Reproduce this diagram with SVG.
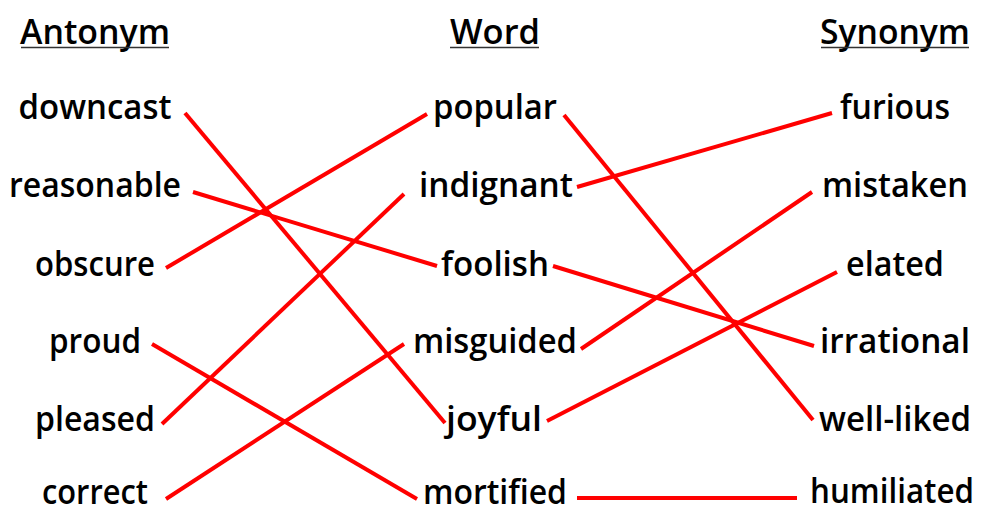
<svg xmlns="http://www.w3.org/2000/svg" width="984" height="513" viewBox="0 0 984 513">
<style>
text{font-family:"Open Sans","Noto Sans","DejaVu Sans",sans-serif;font-size:34px;font-weight:600;fill:#000;text-anchor:middle}
.hl{stroke:#333;stroke-width:1.6}
.c line{stroke:#ff0000;stroke-width:4;stroke-linecap:butt}
</style>
<rect width="984" height="513" fill="#fff"/>
<g id="headers">
<g id="h-antonym"><text x="95" y="44" textLength="150" lengthAdjust="spacingAndGlyphs">Antonym</text><line class="hl" x1="21" y1="47.5" x2="169" y2="47.5"/></g>
<g id="h-word"><text x="495" y="44" textLength="90" lengthAdjust="spacingAndGlyphs">Word</text><line class="hl" x1="450" y1="47.5" x2="539" y2="47.5"/></g>
<g id="h-synonym"><text x="895" y="44" textLength="150" lengthAdjust="spacingAndGlyphs">Synonym</text><line class="hl" x1="821" y1="47.5" x2="969" y2="47.5"/></g>
</g>
<g id="connectors" class="c">
<line x1="185" y1="113" x2="445" y2="423"/>
<line x1="193" y1="192" x2="437" y2="266"/>
<line x1="166" y1="268" x2="427" y2="114"/>
<line x1="152" y1="344" x2="417" y2="499"/>
<line x1="162" y1="424" x2="404" y2="194"/>
<line x1="166" y1="499" x2="404" y2="344"/>
<line x1="564" y1="115" x2="813" y2="420"/>
<line x1="577" y1="187" x2="832" y2="113"/>
<line x1="553" y1="266" x2="814" y2="346"/>
<line x1="581" y1="349" x2="812" y2="192"/>
<line x1="547" y1="421" x2="837" y2="272"/>
<line x1="577" y1="498" x2="797" y2="498"/>
</g>
<g id="n-downcast"><text x="95" y="119" textLength="153" lengthAdjust="spacingAndGlyphs">downcast</text></g>
<g id="n-reasonable"><text x="95" y="197" textLength="172" lengthAdjust="spacingAndGlyphs">reasonable</text></g>
<g id="n-obscure"><text x="95" y="276" textLength="120" lengthAdjust="spacingAndGlyphs">obscure</text></g>
<g id="n-proud"><text x="95" y="353" textLength="92" lengthAdjust="spacingAndGlyphs">proud</text></g>
<g id="n-pleased"><text x="95" y="431" textLength="120" lengthAdjust="spacingAndGlyphs">pleased</text></g>
<g id="n-correct"><text x="95" y="504" textLength="106" lengthAdjust="spacingAndGlyphs">correct</text></g>
<g id="n-popular"><text x="495" y="119" textLength="124" lengthAdjust="spacingAndGlyphs">popular</text></g>
<g id="n-indignant"><text x="496" y="197" textLength="154" lengthAdjust="spacingAndGlyphs">indignant</text></g>
<g id="n-foolish"><text x="495" y="276" textLength="108" lengthAdjust="spacingAndGlyphs">foolish</text></g>
<g id="n-misguided"><text x="495" y="353" textLength="164" lengthAdjust="spacingAndGlyphs">misguided</text></g>
<g id="n-joyful"><text x="494" y="431" textLength="96" lengthAdjust="spacingAndGlyphs">joyful</text></g>
<g id="n-mortified"><text x="495" y="504" textLength="144" lengthAdjust="spacingAndGlyphs">mortified</text></g>
<g id="n-furious"><text x="895" y="119" textLength="110" lengthAdjust="spacingAndGlyphs">furious</text></g>
<g id="n-mistaken"><text x="895" y="197" textLength="146" lengthAdjust="spacingAndGlyphs">mistaken</text></g>
<g id="n-elated"><text x="895" y="276" textLength="98" lengthAdjust="spacingAndGlyphs">elated</text></g>
<g id="n-irrational"><text x="895" y="353" textLength="150" lengthAdjust="spacingAndGlyphs">irrational</text></g>
<g id="n-well-liked"><text x="895" y="431" textLength="152" lengthAdjust="spacingAndGlyphs">well-liked</text></g>
<g id="n-humiliated"><text x="892" y="503" font-size="32" textLength="164" lengthAdjust="spacingAndGlyphs">humiliated</text></g>
</svg>
